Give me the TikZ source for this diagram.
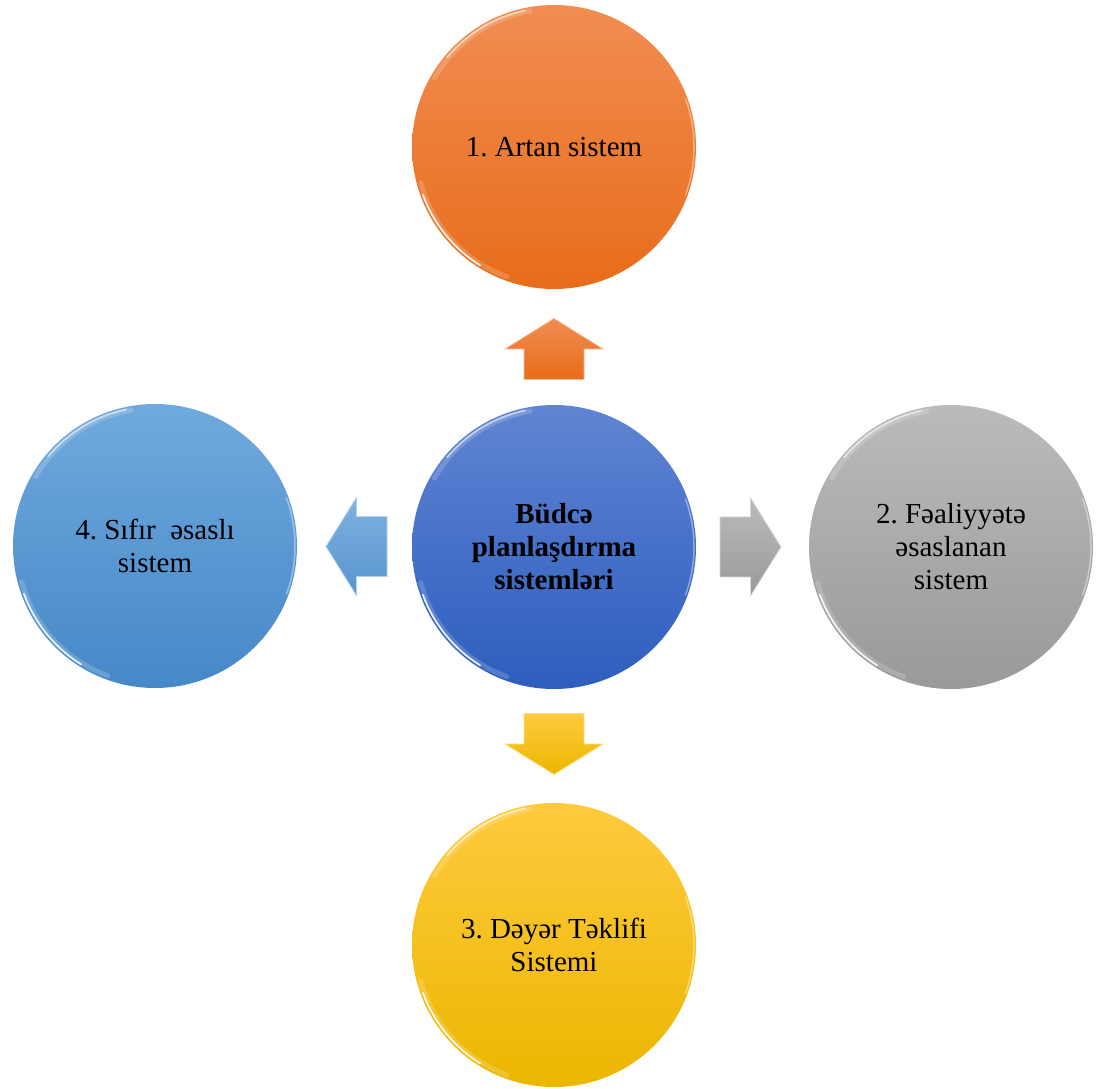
\documentclass[tikz,border=0pt]{standalone}
\usepackage{fontspec}
\setmainfont{Liberation Serif}
\usetikzlibrary{calc}
\frenchspacing
\definecolor{orT}{HTML}{F18D52}
\definecolor{orB}{HTML}{E86C1A}
\definecolor{cbT}{HTML}{6084D2}
\definecolor{cbB}{HTML}{2D5EBF}
\definecolor{grT}{HTML}{BBBBBB}
\definecolor{grB}{HTML}{999999}
\definecolor{yeT}{HTML}{FFCA3E}
\definecolor{yeB}{HTML}{EBB700}
\definecolor{lbT}{HTML}{70A9DD}
\definecolor{lbB}{HTML}{4688C8}
\newcommand{\blockarrow}[4]{%
  \begin{scope}[shift={(#1)},rotate=#2]
    \shade[top color=#3,bottom color=#4,draw=#3!60!white,line width=0.8pt,line join=miter]
      (-30.5,-30) -- (0,-30) -- (0,-49) -- (30.5,0) -- (0,49) -- (0,30) -- (-30.5,30) -- cycle;
  \end{scope}}
\begin{document}
\begin{tikzpicture}[x=1pt,y=1pt]
\useasboundingbox (0,0) rectangle (1100,1088);
\tikzset{
  bubble/.style={circle, minimum size=284pt, inner sep=0pt, outer sep=0pt,
    align=center, font=\fontsize{29}{33}\selectfont},
  gloss/.style={white, line width=1.8pt, opacity=0.85, line cap=round},
  softgloss/.style={white, line width=5pt, opacity=0.18, line cap=round},
}
\node[bubble, top color=cbT, bottom color=cbB] (c) at (554,541) {\bfseries Büdcə\\\bfseries planlaşdırma\\\bfseries sistemləri};
\node[bubble, top color=orT, bottom color=orB] (t) at (554,941) {1. Artan sistem};
\node[bubble, top color=grT, bottom color=grB] (r) at (951,541) {2. Fəaliyyətə\\əsaslanan\\sistem};
\node[bubble, top color=yeT, bottom color=yeB] (b) at (554,143) {3. Dəyər Təklifi\\Sistemi};
\node[bubble, top color=lbT, bottom color=lbB] (l) at (155,542) {4. Sıfır~ əsaslı\\sistem};
\foreach \n in {c,t,r,b,l}{
  \draw[softgloss] ([shift={(100:138)}]\n.center) arc (100:150:138);
  \draw[gloss, opacity=0.55] ([shift={(102:139.5)}]\n.center) arc (102:140:139.5);
  \draw[softgloss] ([shift={(195:138)}]\n.center) arc (195:250:138);
  \draw[gloss] ([shift={(200:139.5)}]\n.center) arc (200:238:139.5);
  \draw[white, line width=1.5pt, opacity=0.4, line cap=round] ([shift={(-20:140)}]\n.center) arc (-20:20:140);
}
\blockarrow{$(c.north)!0.5!(t.south)+(0,-2)$}{90}{orT}{orB}
\blockarrow{$(c.east)!0.5!(r.west)+(-2,0)$}{0}{grT}{grB}
\blockarrow{$(c.south)!0.5!(b.north)+(0,2)$}{-90}{yeT}{yeB}
\blockarrow{$(c.west)!0.5!(l.east)+(2,0)$}{180}{lbT!90!white}{lbB!90!white}
\end{tikzpicture}
\end{document}
